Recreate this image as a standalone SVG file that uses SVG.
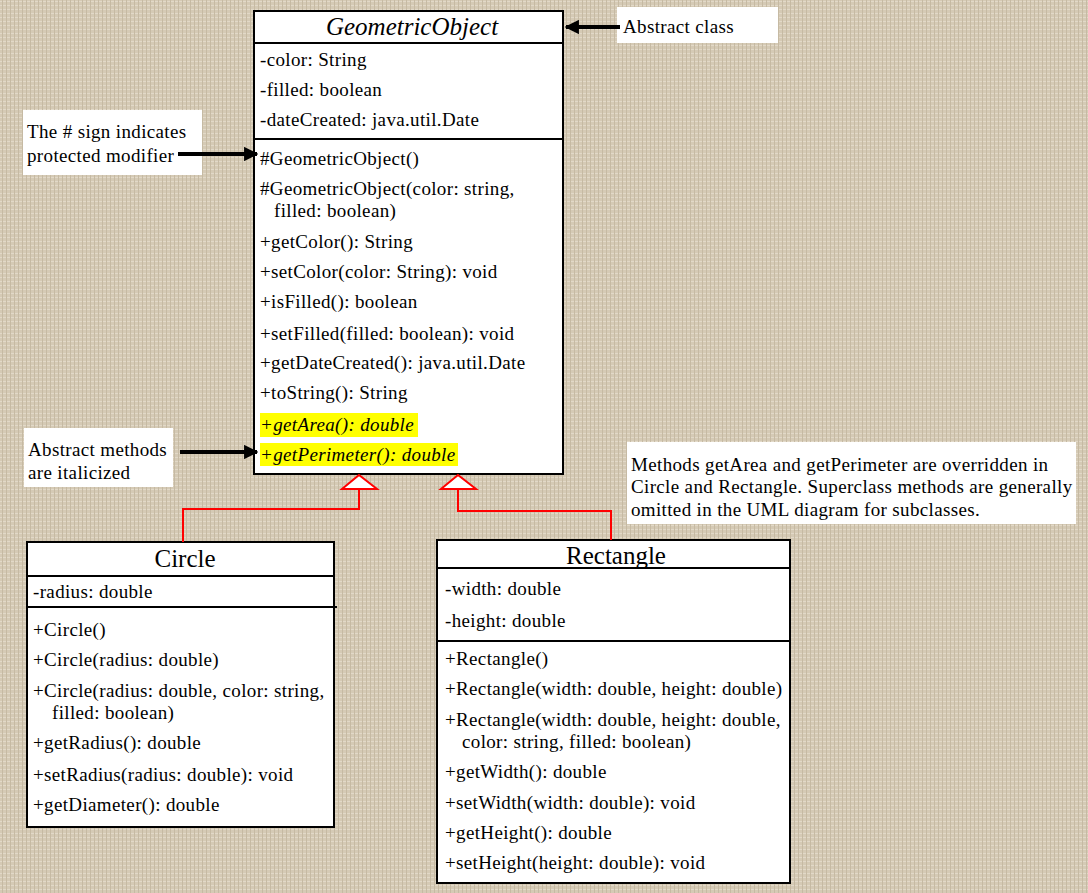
<svg xmlns="http://www.w3.org/2000/svg" width="1088" height="893" viewBox="0 0 1088 893">
<defs>
<pattern id="burlap" width="8" height="8" patternUnits="userSpaceOnUse">
<rect width="8" height="8" fill="#d5cab5"/>
<path d="M0 1.5H8M0 5.5H8" stroke="#e2d9c8" stroke-width="1"/>
<path d="M2.5 0V8M6.5 0V8" stroke="#c6baa3" stroke-width="1"/>
</pattern>
<marker id="arr" viewBox="0 0 10 10" refX="9" refY="5" markerWidth="3.6" markerHeight="3.6" orient="auto" markerUnits="strokeWidth">
<path d="M0 0L10 5L0 10z" fill="#000"/>
</marker>
<style>
text{font-family:"Liberation Serif","Times New Roman",serif;font-size:19px;fill:#000;letter-spacing:0.35px}
.title{font-size:25px;letter-spacing:0}
.it{font-style:italic}
.box{fill:#fff;stroke:#000;stroke-width:2}
.div{stroke:#000;stroke-width:2}
.note{fill:#fff}
.hl{fill:#ffff00}
.conn{fill:none;stroke:#ff0000;stroke-width:2}
.tri{fill:#fff;stroke:#ff0000;stroke-width:2}
.ptr{stroke:#000;stroke-width:4;fill:none;marker-end:url(#arr)}
</style>
</defs>
<rect width="1088" height="893" fill="url(#burlap)"/>

<g id="GeometricObject">
<rect class="box" x="254" y="11" width="309" height="463"/>
<line class="div" x1="254" y1="43" x2="563" y2="43"/>
<line class="div" x1="254" y1="139" x2="563" y2="139"/>
<text class="title it" x="412" y="35" text-anchor="middle">GeometricObject</text>
<text x="260" y="66">-color: String</text>
<text x="260" y="96">-filled: boolean</text>
<text x="260" y="126">-dateCreated: java.util.Date</text>
<text x="260" y="165">#GeometricObject()</text>
<text x="260" y="195">#GeometricObject(color: string,</text>
<text x="274" y="217">filled: boolean)</text>
<text x="260" y="248">+getColor(): String</text>
<text x="260" y="278">+setColor(color: String): void</text>
<text x="260" y="308">+isFilled(): boolean</text>
<text x="260" y="340">+setFilled(filled: boolean): void</text>
<text x="260" y="369">+getDateCreated(): java.util.Date</text>
<text x="260" y="399">+toString(): String</text>
<rect class="hl" x="260" y="413" width="158" height="24"/>
<rect class="hl" x="260" y="443" width="198" height="23"/>
<text class="it" x="260" y="431">+getArea(): double</text>
<text class="it" x="260" y="461">+getPerimeter(): double</text>
</g>

<g id="Circle">
<rect class="box" x="27" y="542" width="307" height="285"/>
<line class="div" x1="27" y1="576" x2="334" y2="576"/>
<line class="div" x1="27" y1="607" x2="337" y2="607"/>
<text class="title" x="185" y="567" text-anchor="middle">Circle</text>
<text x="33" y="598">-radius: double</text>
<text x="33" y="636">+Circle()</text>
<text x="33" y="666">+Circle(radius: double)</text>
<text x="33" y="697">+Circle(radius: double, color: string,</text>
<text x="52" y="719">filled: boolean)</text>
<text x="33" y="749">+getRadius(): double</text>
<text x="33" y="781">+setRadius(radius: double): void</text>
<text x="33" y="811">+getDiameter(): double</text>
</g>

<g id="Rectangle">
<rect class="box" x="437" y="540" width="353" height="343"/>
<line class="div" x1="437" y1="568" x2="790" y2="568"/>
<line class="div" x1="437" y1="641" x2="790" y2="641"/>
<text class="title" x="616" y="564" text-anchor="middle">Rectangle</text>
<text x="445" y="595">-width: double</text>
<text x="445" y="627">-height: double</text>
<text x="445" y="665">+Rectangle()</text>
<text x="445" y="695">+Rectangle(width: double, height: double)</text>
<text x="445" y="726">+Rectangle(width: double, height: double,</text>
<text x="462" y="748">color: string, filled: boolean)</text>
<text x="445" y="778">+getWidth(): double</text>
<text x="445" y="809">+setWidth(width: double): void</text>
<text x="445" y="839">+getHeight(): double</text>
<text x="445" y="869">+setHeight(height: double): void</text>
</g>

<g id="note-abstract-class">
<rect class="note" x="617" y="7" width="161" height="36"/>
<text x="623" y="33">Abstract class</text>
</g>
<g id="note-protected">
<rect class="note" x="23" y="110" width="179" height="65"/>
<text x="27" y="138">The # sign indicates</text>
<text x="27" y="162">protected modifier</text>
</g>
<g id="note-abstract-methods">
<rect class="note" x="24" y="428" width="149" height="59"/>
<text x="28" y="456">Abstract methods</text>
<text x="28" y="479">are italicized</text>
</g>
<g id="note-override">
<rect class="note" x="627" y="442" width="449" height="82"/>
<text x="631" y="471">Methods getArea and getPerimeter are overridden in</text>
<text x="631" y="493">Circle and Rectangle. Superclass methods are generally</text>
<text x="631" y="516">omitted in the UML diagram for subclasses.</text>
</g>

<g id="connectors">
<polyline class="conn" points="183,542 183,509 359,509 359,489"/>
<polygon class="tri" points="359,475 342,489 377,489"/>
<polyline class="conn" points="611,540 611,511 458,511 458,489"/>
<polygon class="tri" points="458,475 441,489 476,489"/>
<line class="ptr" x1="620" y1="27" x2="566" y2="27"/>
<line class="ptr" x1="178" y1="154" x2="257" y2="154"/>
<line class="ptr" x1="180" y1="452" x2="257" y2="452"/>
</g>
</svg>
